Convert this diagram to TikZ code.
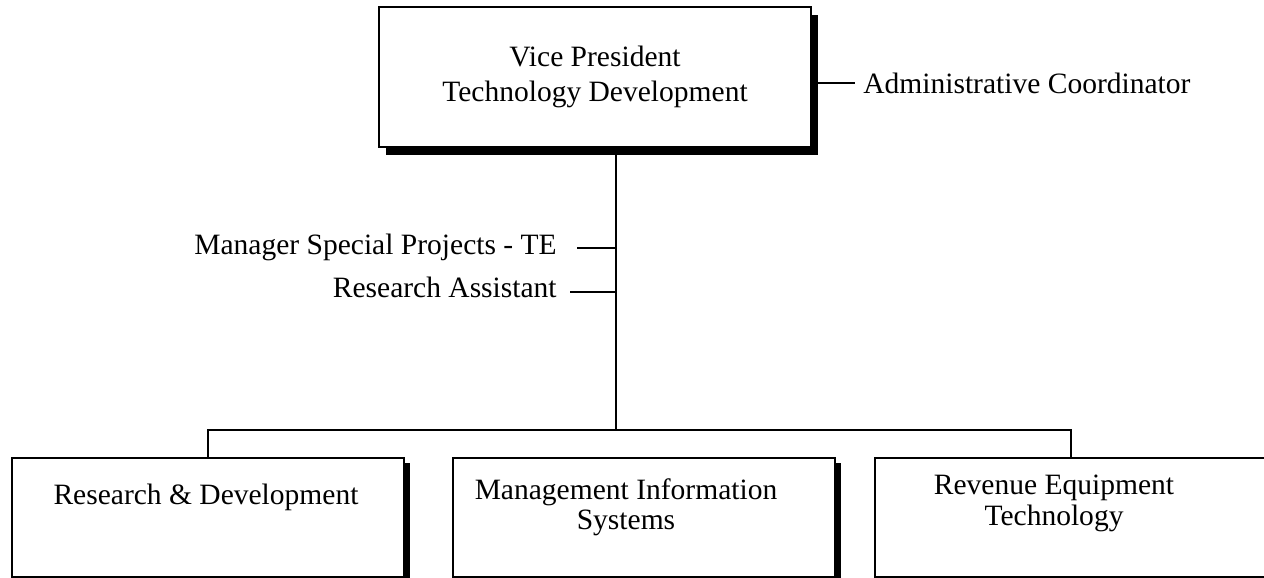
\documentclass[tikz,border=0pt]{standalone}
\usepackage{fontspec}
\setmainfont{Liberation Serif}
\usetikzlibrary{shadows,positioning}

\begin{document}
\begin{tikzpicture}[
  font=\fontsize{16.8}{20}\selectfont,
  line width=1.5pt,
  topbox/.style={draw, fill=white, align=center, minimum width=8.64cm, minimum height=2.8cm,
    drop shadow={shadow xshift=0.14cm, shadow yshift=-0.16cm, fill=black, opacity=1}},
  unitbox/.style={draw, fill=white, minimum width=7.84cm, minimum height=2.38cm,
    drop shadow={shadow xshift=0.12cm, shadow yshift=-0.1cm, fill=black, opacity=1}},
  unitlbl/.style={inner sep=0pt, align=center, anchor=north, font=\fontsize{16.8}{17.5}\selectfont},
  sidelbl/.style={inner sep=0pt}
]
  \useasboundingbox (0,0) rectangle (25.28,-11.56);

  % Head of department
  \node[topbox] (vp) at (11.9,-1.54) {Vice President\\Technology Development};
  \node[sidelbl, anchor=base west] (admin) at (17.24,-1.88) {Administrative Coordinator};

  % Staff positions on the trunk
  \coordinate (hub) at (12.32,-8.6);
  \node[sidelbl, anchor=base east] (msp) at (11.16,-5.10) {Manager Special Projects - TE};
  \node[sidelbl, anchor=base east] (ra)  at (11.16,-5.96) {Research Assistant};

  % Units
  \node[unitbox] (rd)  at (4.16,-10.35) {};
  \node[unitbox, minimum width=7.64cm] (mis) at (12.88,-10.35) {};
  \node[unitbox] (ret) at (21.42,-10.35) {};

  \node[unitlbl] (rdlbl)  at (4.12,-9.66) {Research \& Development};
  \node[unitlbl] (mislbl) at (12.52,-9.54) {Management Information\\Systems};
  \node[unitlbl] (retlbl) at (21.08,-9.48) {Revenue Equipment\\Technology};

  % Connectors
  \coordinate (adminend) at ([shift={(-0.14,0.22)}]admin.base west);
  \draw (adminend -| vp.east) -- (adminend);

  \draw (vp.south -| hub) -- (hub);

  \coordinate (mspend) at ([shift={(0.38,0.14)}]msp.base east);
  \draw (mspend) -- (mspend -| hub);
  \coordinate (raend) at ([shift={(0.24,0.12)}]ra.base east);
  \draw (raend) -- (raend -| hub);

  \draw (rd.north) |- (hub) -| (ret.north);
\end{tikzpicture}
\end{document}
